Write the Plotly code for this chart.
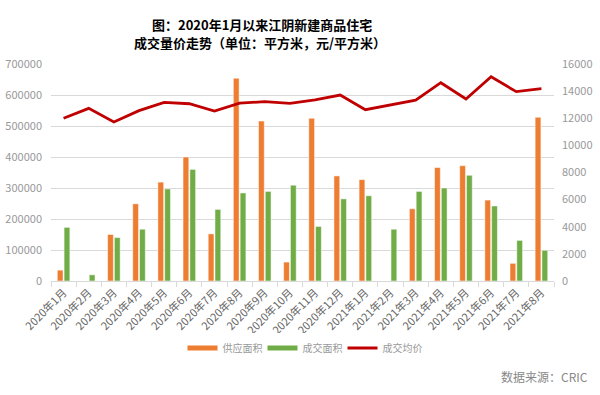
import plotly.graph_objects as go

months = ["2020年1月", "2020年2月", "2020年3月", "2020年4月", "2020年5月", "2020年6月",
          "2020年7月", "2020年8月", "2020年9月", "2020年10月", "2020年11月", "2020年12月",
          "2021年1月", "2021年2月", "2021年3月", "2021年4月", "2021年5月", "2021年6月",
          "2021年7月", "2021年8月"]
supply_area = [35000, 0, 150000, 249000, 319000, 400000, 152000, 654000, 516000, 61000,
               525000, 339000, 327000, 0, 233000, 366000, 372000, 261000, 57000, 528000]
deal_area = [173000, 20000, 140000, 167000, 297000, 360000, 231000, 284000, 289000, 309000,
             176000, 265000, 275000, 167000, 289000, 300000, 341000, 242000, 131000, 99000]
avg_price = [12000, 12730, 11720, 12560, 13170, 13070, 12530, 13120, 13220, 13100,
             13360, 13710, 12630, 12970, 13340, 14620, 13420, 15060, 13960, 14180]

ORANGE = "#ED7D31"
GREEN = "#70AD47"
RED = "#C00000"
FONT = "Noto Sans CJK SC"

fig = go.Figure()
fig.add_trace(go.Bar(x=months, y=supply_area, name="供应面积", marker_color=ORANGE,
                     marker_line=dict(color="white", width=0.5), showlegend=False))
fig.add_trace(go.Bar(x=months, y=deal_area, name="成交面积", marker_color=GREEN,
                     marker_line=dict(color="white", width=0.5), showlegend=False))
fig.add_trace(go.Scatter(x=months, y=avg_price, name="成交均价", mode="lines",
                         line=dict(color=RED, width=2.8), yaxis="y2", showlegend=False))
# legend entries drawn as line samples (like the reference)
fig.add_trace(go.Scatter(x=[None], y=[None], name="供应面积", mode="lines",
                         line=dict(color=ORANGE, width=5)))
fig.add_trace(go.Scatter(x=[None], y=[None], name="成交面积", mode="lines",
                         line=dict(color=GREEN, width=5)))
fig.add_trace(go.Scatter(x=[None], y=[None], name="成交均价", mode="lines",
                         line=dict(color=RED, width=3)))

fig.update_layout(
    width=600, height=395,
    margin=dict(l=51, r=46, t=64, b=114),
    paper_bgcolor="white", plot_bgcolor="white",
    font=dict(family=FONT, size=11, color="#999999"),
    barmode="group", bargap=0.46, bargroupgap=0.15,
    xaxis=dict(tickangle=-45, tickfont=dict(size=11, color="#666666"), automargin=False,
               showline=True, linecolor="#d9d9d9", ticks="outside", tickson="boundaries",
               ticklen=5, tickcolor="#d9d9d9", showgrid=False),
    yaxis=dict(range=[0, 700000], dtick=100000, showgrid=True, gridcolor="#d9d9d9",
               tickfont=dict(size=11, color="#999999"), zeroline=False, automargin=False,
               tickformat="d", ticklabelstandoff=8),
    yaxis2=dict(range=[0, 16000], dtick=2000, overlaying="y", side="right", automargin=False,
                showgrid=False, zeroline=False, tickfont=dict(size=11, color="#999999"),
                tickformat="d", ticklabelstandoff=7),
    legend=dict(orientation="h", x=0.5, xanchor="center", xref="paper",
                y=0.119, yanchor="middle", yref="container", entrywidth=35,
                font=dict(size=10, color="#999999"), itemwidth=30),
    annotations=[
        dict(text="<b>图：2020年1月以来江阴新建商品住宅</b>",
             xref="paper", yref="paper", x=0.419, y=1.184, xanchor="center", yanchor="middle",
             showarrow=False, font=dict(family=FONT, size=13, color="#000000")),
        dict(text="<b>成交量价走势（单位：平方米，元/平方米）</b>",
             xref="paper", yref="paper", x=0.415, y=1.097, xanchor="center", yanchor="middle",
             showarrow=False, font=dict(family=FONT, size=13, color="#000000")),
        dict(text="数据来源：CRIC", xref="paper", yref="paper",
             x=1.072, y=-0.442, xanchor="right", yanchor="middle",
             showarrow=False, font=dict(family=FONT, size=12, color="#888888"))],
)

fig.write_html("out.html", config={"displayModeBar": False},
               post_script="document.body.style.margin='0';document.body.style.overflow='hidden';")
